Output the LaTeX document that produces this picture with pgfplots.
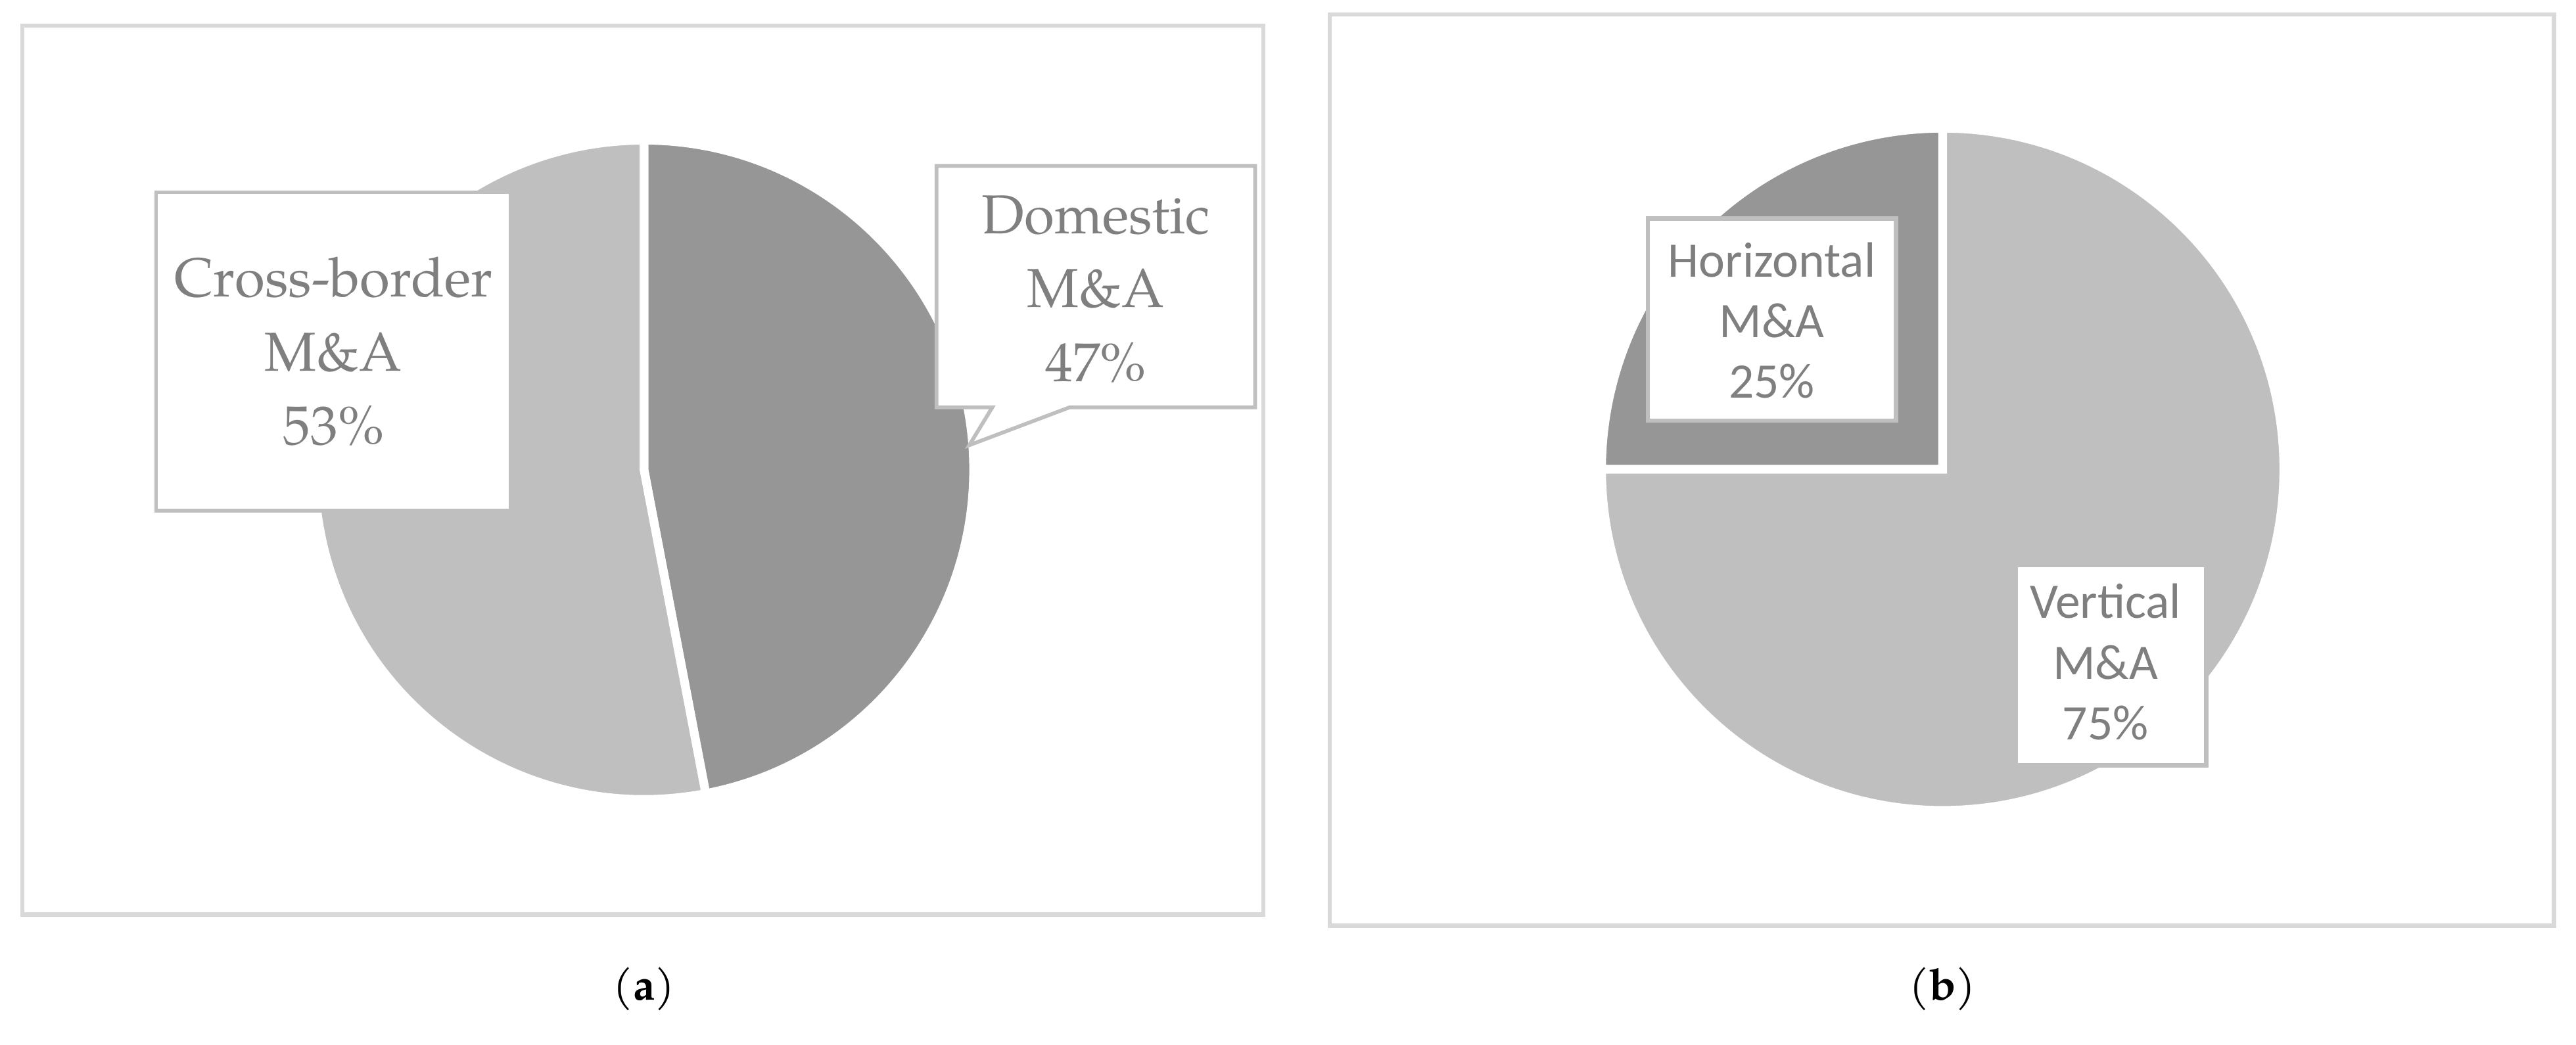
\documentclass[border=0pt]{standalone}
\usepackage{pgfplots}
\pgfplotsset{compat=1.18}
\usepackage{pgfplotstable}
\usepackage{fontspec}
\newfontfamily\pala{TeX Gyre Pagella}
\newfontfamily\carl{Carlito}

\definecolor{darkslice}{RGB}{150,150,150}
\definecolor{lightslice}{RGB}{191,191,191}
\definecolor{framegray}{RGB}{217,217,217}
\definecolor{boxgray}{RGB}{191,191,191}
\definecolor{txtgray}{RGB}{127,127,127}

% shares in percent
\pgfplotstableread{
type share
Domestic 47
Crossborder 53
}\pieA
\pgfplotstableread{
type share
Horizontal 25
Vertical 75
}\pieB

\begin{document}
\begin{tikzpicture}
\pgfplotstablegetelem{0}{share}\of\pieA \let\shDom\pgfplotsretval
\pgfplotstablegetelem{1}{share}\of\pieA \let\shCross\pgfplotsretval
\pgfplotstablegetelem{0}{share}\of\pieB \let\shHor\pgfplotsretval
\pgfplotstablegetelem{1}{share}\of\pieB \let\shVer\pgfplotsretval
\pgfmathsetmacro\aDom{90-3.6*\shDom}
\pgfmathsetmacro\aHor{90+3.6*\shHor}

\begin{axis}[
    x=0.01cm, y=0.01cm,
    xmin=0, xmax=1568, ymin=0, ymax=636,
    hide axis, clip=false, scale only axis
]
\path (axis cs:0,0) rectangle (axis cs:1568,636);

% panel frames
\draw[framegray, line width=0.76pt] (axis cs:13.6,79.4) rectangle (axis cs:769,620.4);
\draw[framegray, line width=0.76pt] (axis cs:809.4,72.6) rectangle (axis cs:1554.5,627.2);

% (a) domestic vs cross-border
\filldraw[fill=darkslice, draw=white, line width=1.5pt]
  (axis cs:392,350) -- +(90:2.005cm) arc[start angle=90, end angle=\aDom, radius=2.005cm] -- cycle;
\filldraw[fill=lightslice, draw=white, line width=1.5pt]
  (axis cs:392,350) -- +(\aDom:2.005cm) arc[start angle=\aDom, end angle=-270, radius=2.005cm] -- cycle;

\filldraw[fill=white, draw=boxgray, line width=0.65pt] (axis cs:95,325) rectangle (axis cs:311,519);
\node[txtgray, align=center, font=\pala\fontsize{9.5}{12.8}\selectfont] at (axis cs:203,422)
  {Cross-border\\M\&A\\\shCross\%};

\filldraw[fill=white, draw=boxgray, line width=0.65pt, line join=miter]
  (axis cs:570,535) -- (axis cs:764,535) -- (axis cs:764,388) -- (axis cs:651,388)
  -- (axis cs:590,365) -- (axis cs:604,388) -- (axis cs:570,388) -- cycle;
\node[txtgray, align=center, font=\pala\fontsize{9.5}{12.8}\selectfont] at (axis cs:667,460)
  {Domestic\\M\&A\\\shDom\%};

% (b) horizontal vs vertical
\filldraw[fill=darkslice, draw=white, line width=1.5pt]
  (axis cs:1182.5,350.3) -- +(90:2.075cm) arc[start angle=90, end angle=\aHor, radius=2.075cm] -- cycle;
\filldraw[fill=lightslice, draw=white, line width=1.5pt]
  (axis cs:1182.5,350.3) -- +(\aHor:2.075cm) arc[start angle=\aHor, end angle=450, radius=2.075cm] -- cycle;

\filldraw[fill=white, draw=boxgray, line width=0.75pt] (axis cs:1003,380) rectangle (axis cs:1154,503);
\node[txtgray, align=center, font=\carl\fontsize{8.6}{10.5}\selectfont] at (axis cs:1078.5,441)
  {Horizontal\\M\&A\\\shHor\%};

\filldraw[fill=white, draw=boxgray, line width=0.75pt] (axis cs:1227,170) rectangle (axis cs:1343,292);
\node[txtgray, align=center, font=\carl\fontsize{8.6}{10.5}\selectfont] at (axis cs:1281.6,233)
  {Vertical\\M\&A\\\shVer\%};

% captions
\node[font=\pala\fontsize{7.6}{9}\selectfont] at (axis cs:392,34) {(\textbf{a})};
\node[font=\pala\fontsize{7.6}{9}\selectfont] at (axis cs:1182.5,34) {(\textbf{b})};
\end{axis}
\end{tikzpicture}
\end{document}
